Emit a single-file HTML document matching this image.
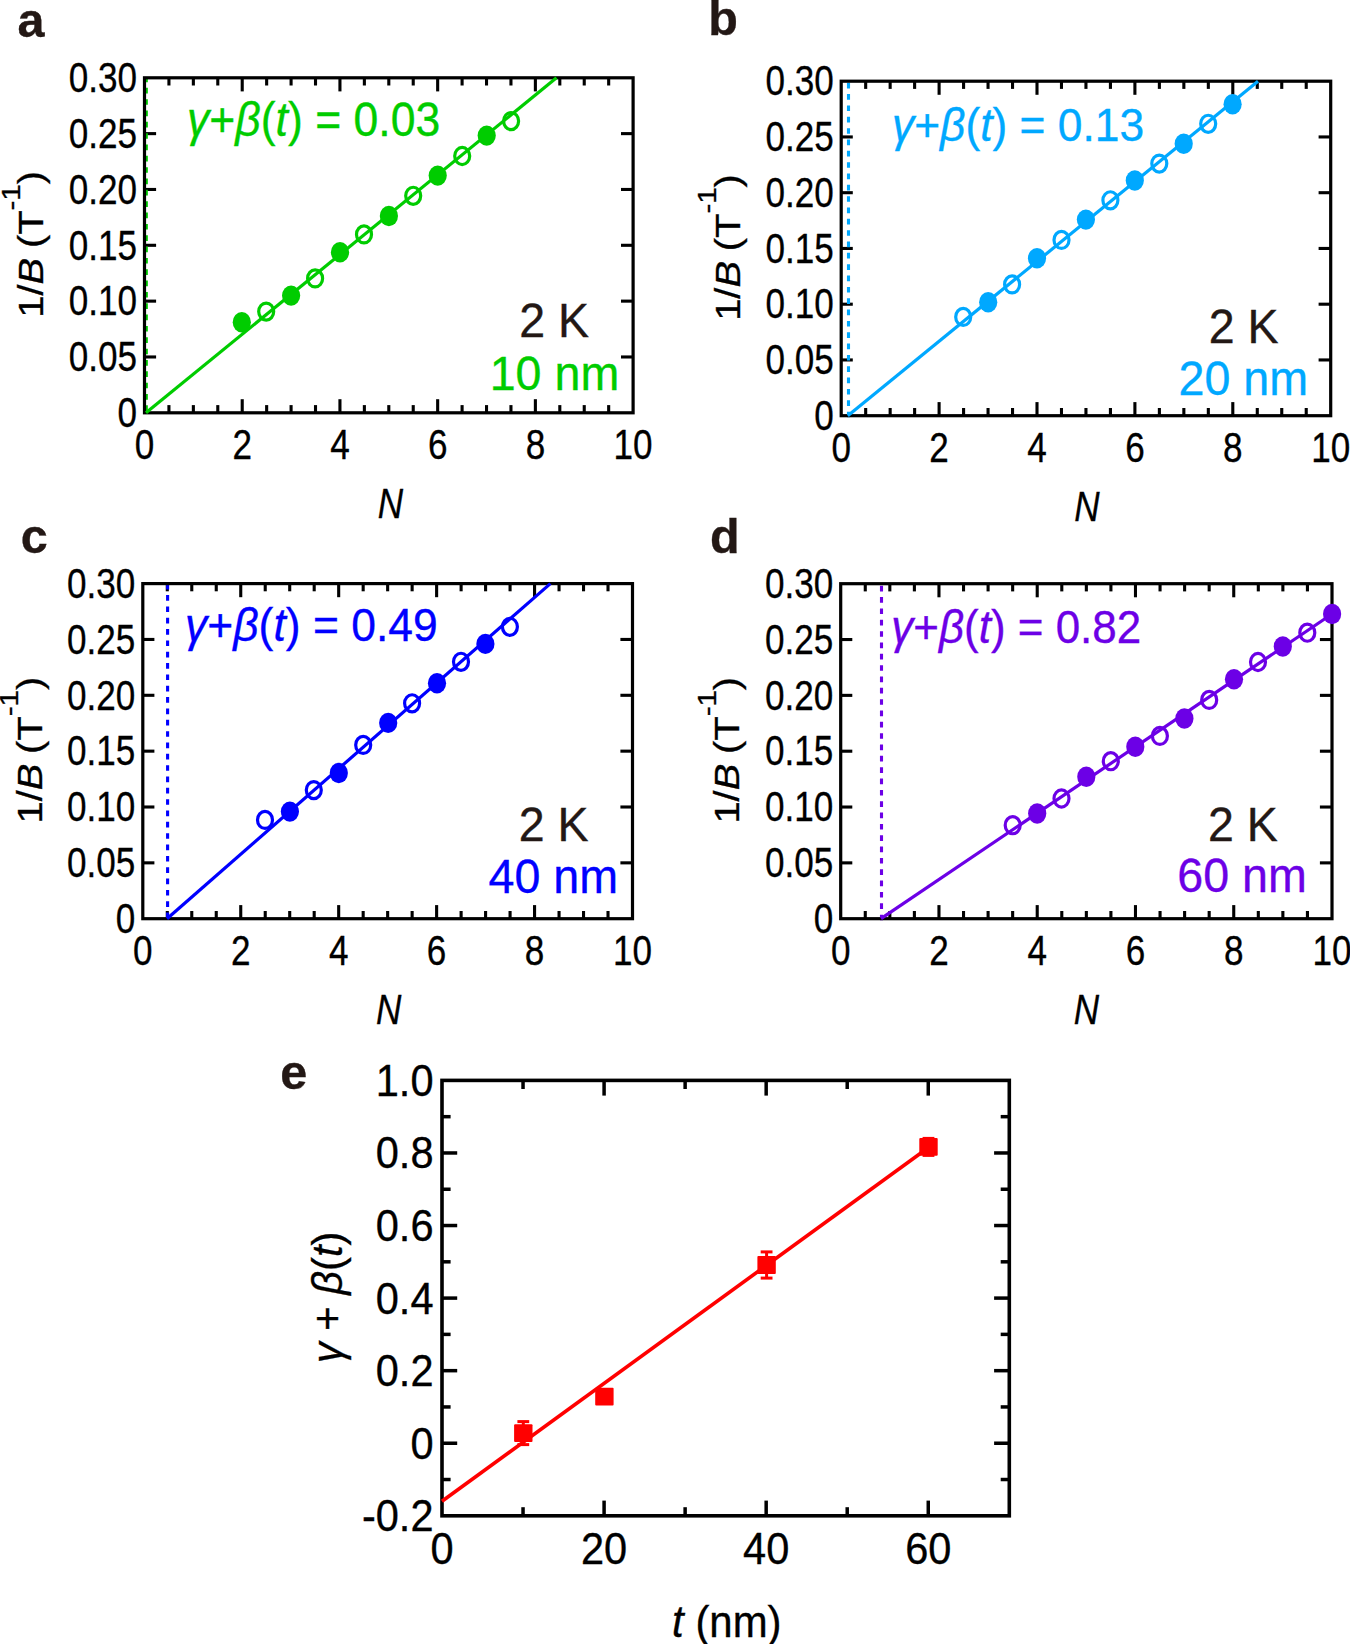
<!DOCTYPE html>
<html lang="en">
<head>
<meta charset="utf-8">
<title>Landau fan diagrams</title>
<style>
html,body{margin:0;padding:0;background:#fff;}
body{width:1350px;height:1644px;overflow:hidden;}
svg{display:block;font-family:"Liberation Sans",Arial,Helvetica,sans-serif;}
</style>
</head>
<body>
<svg width="1350" height="1644" viewBox="0 0 1350 1644">
<rect width="1350" height="1644" fill="#fff"/>
<g>
<text transform="translate(17.5,36.5)" font-size="48.5" fill="#231815" stroke="#231815" stroke-width="0.35" font-weight="bold">a</text>
<line x1="168.93" y1="412.8" x2="168.93" y2="405.1" stroke="#000" stroke-width="3.1"/>
<line x1="168.93" y1="77.8" x2="168.93" y2="85.5" stroke="#000" stroke-width="3.1"/>
<line x1="193.36" y1="412.8" x2="193.36" y2="405.1" stroke="#000" stroke-width="3.1"/>
<line x1="193.36" y1="77.8" x2="193.36" y2="85.5" stroke="#000" stroke-width="3.1"/>
<line x1="217.79" y1="412.8" x2="217.79" y2="405.1" stroke="#000" stroke-width="3.1"/>
<line x1="217.79" y1="77.8" x2="217.79" y2="85.5" stroke="#000" stroke-width="3.1"/>
<line x1="242.22" y1="412.8" x2="242.22" y2="399.2" stroke="#000" stroke-width="3.1"/>
<line x1="242.22" y1="77.8" x2="242.22" y2="91.4" stroke="#000" stroke-width="3.1"/>
<line x1="266.65" y1="412.8" x2="266.65" y2="405.1" stroke="#000" stroke-width="3.1"/>
<line x1="266.65" y1="77.8" x2="266.65" y2="85.5" stroke="#000" stroke-width="3.1"/>
<line x1="291.08" y1="412.8" x2="291.08" y2="405.1" stroke="#000" stroke-width="3.1"/>
<line x1="291.08" y1="77.8" x2="291.08" y2="85.5" stroke="#000" stroke-width="3.1"/>
<line x1="315.51" y1="412.8" x2="315.51" y2="405.1" stroke="#000" stroke-width="3.1"/>
<line x1="315.51" y1="77.8" x2="315.51" y2="85.5" stroke="#000" stroke-width="3.1"/>
<line x1="339.94" y1="412.8" x2="339.94" y2="399.2" stroke="#000" stroke-width="3.1"/>
<line x1="339.94" y1="77.8" x2="339.94" y2="91.4" stroke="#000" stroke-width="3.1"/>
<line x1="364.37" y1="412.8" x2="364.37" y2="405.1" stroke="#000" stroke-width="3.1"/>
<line x1="364.37" y1="77.8" x2="364.37" y2="85.5" stroke="#000" stroke-width="3.1"/>
<line x1="388.8" y1="412.8" x2="388.8" y2="405.1" stroke="#000" stroke-width="3.1"/>
<line x1="388.8" y1="77.8" x2="388.8" y2="85.5" stroke="#000" stroke-width="3.1"/>
<line x1="413.23" y1="412.8" x2="413.23" y2="405.1" stroke="#000" stroke-width="3.1"/>
<line x1="413.23" y1="77.8" x2="413.23" y2="85.5" stroke="#000" stroke-width="3.1"/>
<line x1="437.66" y1="412.8" x2="437.66" y2="399.2" stroke="#000" stroke-width="3.1"/>
<line x1="437.66" y1="77.8" x2="437.66" y2="91.4" stroke="#000" stroke-width="3.1"/>
<line x1="462.09" y1="412.8" x2="462.09" y2="405.1" stroke="#000" stroke-width="3.1"/>
<line x1="462.09" y1="77.8" x2="462.09" y2="85.5" stroke="#000" stroke-width="3.1"/>
<line x1="486.52" y1="412.8" x2="486.52" y2="405.1" stroke="#000" stroke-width="3.1"/>
<line x1="486.52" y1="77.8" x2="486.52" y2="85.5" stroke="#000" stroke-width="3.1"/>
<line x1="510.95" y1="412.8" x2="510.95" y2="405.1" stroke="#000" stroke-width="3.1"/>
<line x1="510.95" y1="77.8" x2="510.95" y2="85.5" stroke="#000" stroke-width="3.1"/>
<line x1="535.38" y1="412.8" x2="535.38" y2="399.2" stroke="#000" stroke-width="3.1"/>
<line x1="535.38" y1="77.8" x2="535.38" y2="91.4" stroke="#000" stroke-width="3.1"/>
<line x1="559.81" y1="412.8" x2="559.81" y2="405.1" stroke="#000" stroke-width="3.1"/>
<line x1="559.81" y1="77.8" x2="559.81" y2="85.5" stroke="#000" stroke-width="3.1"/>
<line x1="584.24" y1="412.8" x2="584.24" y2="405.1" stroke="#000" stroke-width="3.1"/>
<line x1="584.24" y1="77.8" x2="584.24" y2="85.5" stroke="#000" stroke-width="3.1"/>
<line x1="608.67" y1="412.8" x2="608.67" y2="405.1" stroke="#000" stroke-width="3.1"/>
<line x1="608.67" y1="77.8" x2="608.67" y2="85.5" stroke="#000" stroke-width="3.1"/>
<line x1="144.5" y1="356.97" x2="156.1" y2="356.97" stroke="#000" stroke-width="3.1"/>
<line x1="633.1" y1="356.97" x2="621" y2="356.97" stroke="#000" stroke-width="3.1"/>
<line x1="144.5" y1="301.13" x2="156.1" y2="301.13" stroke="#000" stroke-width="3.1"/>
<line x1="633.1" y1="301.13" x2="621" y2="301.13" stroke="#000" stroke-width="3.1"/>
<line x1="144.5" y1="245.3" x2="156.1" y2="245.3" stroke="#000" stroke-width="3.1"/>
<line x1="633.1" y1="245.3" x2="621" y2="245.3" stroke="#000" stroke-width="3.1"/>
<line x1="144.5" y1="189.47" x2="156.1" y2="189.47" stroke="#000" stroke-width="3.1"/>
<line x1="633.1" y1="189.47" x2="621" y2="189.47" stroke="#000" stroke-width="3.1"/>
<line x1="144.5" y1="133.63" x2="156.1" y2="133.63" stroke="#000" stroke-width="3.1"/>
<line x1="633.1" y1="133.63" x2="621" y2="133.63" stroke="#000" stroke-width="3.1"/>
<line x1="146.3" y1="411" x2="146.3" y2="77.8" stroke="#00cc00" stroke-width="3.1" stroke-dasharray="5.67 5.67"/>
<rect x="144.5" y="77.8" width="488.6" height="335" fill="none" stroke="#000" stroke-width="3.2"/>
<text transform="translate(137,427.05) scale(0.81,1)" font-size="43.3" fill="#000" stroke="#000" stroke-width="0.35" text-anchor="end">0</text>
<text transform="translate(137,371.22) scale(0.81,1)" font-size="43.3" fill="#000" stroke="#000" stroke-width="0.35" text-anchor="end">0.05</text>
<text transform="translate(137,315.38) scale(0.81,1)" font-size="43.3" fill="#000" stroke="#000" stroke-width="0.35" text-anchor="end">0.10</text>
<text transform="translate(137,259.55) scale(0.81,1)" font-size="43.3" fill="#000" stroke="#000" stroke-width="0.35" text-anchor="end">0.15</text>
<text transform="translate(137,203.72) scale(0.81,1)" font-size="43.3" fill="#000" stroke="#000" stroke-width="0.35" text-anchor="end">0.20</text>
<text transform="translate(137,147.88) scale(0.81,1)" font-size="43.3" fill="#000" stroke="#000" stroke-width="0.35" text-anchor="end">0.25</text>
<text transform="translate(137,92.05) scale(0.81,1)" font-size="43.3" fill="#000" stroke="#000" stroke-width="0.35" text-anchor="end">0.30</text>
<text transform="translate(144.5,458.6) scale(0.81,1)" font-size="43.3" fill="#000" stroke="#000" stroke-width="0.35" text-anchor="middle">0</text>
<text transform="translate(242.22,458.6) scale(0.81,1)" font-size="43.3" fill="#000" stroke="#000" stroke-width="0.35" text-anchor="middle">2</text>
<text transform="translate(339.94,458.6) scale(0.81,1)" font-size="43.3" fill="#000" stroke="#000" stroke-width="0.35" text-anchor="middle">4</text>
<text transform="translate(437.66,458.6) scale(0.81,1)" font-size="43.3" fill="#000" stroke="#000" stroke-width="0.35" text-anchor="middle">6</text>
<text transform="translate(535.38,458.6) scale(0.81,1)" font-size="43.3" fill="#000" stroke="#000" stroke-width="0.35" text-anchor="middle">8</text>
<text transform="translate(633.1,458.6) scale(0.81,1)" font-size="43.3" fill="#000" stroke="#000" stroke-width="0.35" text-anchor="middle">10</text>
<text transform="translate(390.3,518) scale(0.81,1)" font-size="43.3" fill="#000" stroke="#000" stroke-width="0.35" text-anchor="middle" font-style="italic">N</text>
<text transform="translate(43.2,244.3) scale(0.89,1) rotate(-90)" font-size="39.9" fill="#000" stroke="#000" stroke-width="0.35" text-anchor="middle">1/<tspan font-style="italic">B</tspan><tspan dx="-1.4"> </tspan>(T<tspan font-size="29.5" dy="-26.5">-1</tspan><tspan dy="26.5">)</tspan></text>
<line x1="146" y1="412.8" x2="556.5" y2="77.8" stroke="#00cc00" stroke-width="3.2"/>
<ellipse cx="241.8" cy="322.2" rx="9.1" ry="10.2" fill="#00cc00"/>
<ellipse cx="266.2" cy="311.6" rx="7.5" ry="8.55" fill="none" stroke="#00cc00" stroke-width="3.2"/>
<ellipse cx="291.1" cy="295.6" rx="9.1" ry="10.2" fill="#00cc00"/>
<ellipse cx="315.1" cy="278.4" rx="7.5" ry="8.55" fill="none" stroke="#00cc00" stroke-width="3.2"/>
<ellipse cx="340" cy="252.2" rx="9.1" ry="10.2" fill="#00cc00"/>
<ellipse cx="364" cy="234.4" rx="7.5" ry="8.55" fill="none" stroke="#00cc00" stroke-width="3.2"/>
<ellipse cx="388.9" cy="216" rx="9.1" ry="10.2" fill="#00cc00"/>
<ellipse cx="413.2" cy="195.8" rx="7.5" ry="8.55" fill="none" stroke="#00cc00" stroke-width="3.2"/>
<ellipse cx="437.7" cy="175.6" rx="9.1" ry="10.2" fill="#00cc00"/>
<ellipse cx="462.2" cy="156" rx="7.5" ry="8.55" fill="none" stroke="#00cc00" stroke-width="3.2"/>
<ellipse cx="486.7" cy="135.6" rx="9.1" ry="10.2" fill="#00cc00"/>
<ellipse cx="511.1" cy="121.1" rx="7.5" ry="8.55" fill="none" stroke="#00cc00" stroke-width="3.2"/>
<text transform="translate(187,135.5) scale(0.94,1)" font-size="47.4" fill="#00cc00" stroke="#00cc00" stroke-width="0.35"><tspan font-style="italic">γ</tspan>+<tspan font-style="italic">β</tspan>(<tspan font-style="italic">t</tspan>) = 0.03</text>
<text transform="translate(554.2,336.7) scale(0.96,1)" font-size="48.5" fill="#231815" stroke="#231815" stroke-width="0.35" text-anchor="middle">2 K</text>
<text transform="translate(554.5,390) scale(0.96,1)" font-size="48.6" fill="#00cc00" stroke="#00cc00" stroke-width="0.35" text-anchor="middle">10 nm</text>
</g>
<g>
<text transform="translate(708.3,34.8)" font-size="48.5" fill="#231815" stroke="#231815" stroke-width="0.35" font-weight="bold">b</text>
<line x1="865.68" y1="415.7" x2="865.68" y2="408" stroke="#000" stroke-width="3.1"/>
<line x1="865.68" y1="81.2" x2="865.68" y2="88.9" stroke="#000" stroke-width="3.1"/>
<line x1="890.15" y1="415.7" x2="890.15" y2="408" stroke="#000" stroke-width="3.1"/>
<line x1="890.15" y1="81.2" x2="890.15" y2="88.9" stroke="#000" stroke-width="3.1"/>
<line x1="914.62" y1="415.7" x2="914.62" y2="408" stroke="#000" stroke-width="3.1"/>
<line x1="914.62" y1="81.2" x2="914.62" y2="88.9" stroke="#000" stroke-width="3.1"/>
<line x1="939.1" y1="415.7" x2="939.1" y2="402.1" stroke="#000" stroke-width="3.1"/>
<line x1="939.1" y1="81.2" x2="939.1" y2="94.8" stroke="#000" stroke-width="3.1"/>
<line x1="963.58" y1="415.7" x2="963.58" y2="408" stroke="#000" stroke-width="3.1"/>
<line x1="963.58" y1="81.2" x2="963.58" y2="88.9" stroke="#000" stroke-width="3.1"/>
<line x1="988.05" y1="415.7" x2="988.05" y2="408" stroke="#000" stroke-width="3.1"/>
<line x1="988.05" y1="81.2" x2="988.05" y2="88.9" stroke="#000" stroke-width="3.1"/>
<line x1="1012.53" y1="415.7" x2="1012.53" y2="408" stroke="#000" stroke-width="3.1"/>
<line x1="1012.53" y1="81.2" x2="1012.53" y2="88.9" stroke="#000" stroke-width="3.1"/>
<line x1="1037" y1="415.7" x2="1037" y2="402.1" stroke="#000" stroke-width="3.1"/>
<line x1="1037" y1="81.2" x2="1037" y2="94.8" stroke="#000" stroke-width="3.1"/>
<line x1="1061.48" y1="415.7" x2="1061.48" y2="408" stroke="#000" stroke-width="3.1"/>
<line x1="1061.48" y1="81.2" x2="1061.48" y2="88.9" stroke="#000" stroke-width="3.1"/>
<line x1="1085.95" y1="415.7" x2="1085.95" y2="408" stroke="#000" stroke-width="3.1"/>
<line x1="1085.95" y1="81.2" x2="1085.95" y2="88.9" stroke="#000" stroke-width="3.1"/>
<line x1="1110.43" y1="415.7" x2="1110.43" y2="408" stroke="#000" stroke-width="3.1"/>
<line x1="1110.43" y1="81.2" x2="1110.43" y2="88.9" stroke="#000" stroke-width="3.1"/>
<line x1="1134.9" y1="415.7" x2="1134.9" y2="402.1" stroke="#000" stroke-width="3.1"/>
<line x1="1134.9" y1="81.2" x2="1134.9" y2="94.8" stroke="#000" stroke-width="3.1"/>
<line x1="1159.38" y1="415.7" x2="1159.38" y2="408" stroke="#000" stroke-width="3.1"/>
<line x1="1159.38" y1="81.2" x2="1159.38" y2="88.9" stroke="#000" stroke-width="3.1"/>
<line x1="1183.85" y1="415.7" x2="1183.85" y2="408" stroke="#000" stroke-width="3.1"/>
<line x1="1183.85" y1="81.2" x2="1183.85" y2="88.9" stroke="#000" stroke-width="3.1"/>
<line x1="1208.33" y1="415.7" x2="1208.33" y2="408" stroke="#000" stroke-width="3.1"/>
<line x1="1208.33" y1="81.2" x2="1208.33" y2="88.9" stroke="#000" stroke-width="3.1"/>
<line x1="1232.8" y1="415.7" x2="1232.8" y2="402.1" stroke="#000" stroke-width="3.1"/>
<line x1="1232.8" y1="81.2" x2="1232.8" y2="94.8" stroke="#000" stroke-width="3.1"/>
<line x1="1257.28" y1="415.7" x2="1257.28" y2="408" stroke="#000" stroke-width="3.1"/>
<line x1="1257.28" y1="81.2" x2="1257.28" y2="88.9" stroke="#000" stroke-width="3.1"/>
<line x1="1281.75" y1="415.7" x2="1281.75" y2="408" stroke="#000" stroke-width="3.1"/>
<line x1="1281.75" y1="81.2" x2="1281.75" y2="88.9" stroke="#000" stroke-width="3.1"/>
<line x1="1306.23" y1="415.7" x2="1306.23" y2="408" stroke="#000" stroke-width="3.1"/>
<line x1="1306.23" y1="81.2" x2="1306.23" y2="88.9" stroke="#000" stroke-width="3.1"/>
<line x1="841.2" y1="359.95" x2="852.8" y2="359.95" stroke="#000" stroke-width="3.1"/>
<line x1="1330.7" y1="359.95" x2="1318.6" y2="359.95" stroke="#000" stroke-width="3.1"/>
<line x1="841.2" y1="304.2" x2="852.8" y2="304.2" stroke="#000" stroke-width="3.1"/>
<line x1="1330.7" y1="304.2" x2="1318.6" y2="304.2" stroke="#000" stroke-width="3.1"/>
<line x1="841.2" y1="248.45" x2="852.8" y2="248.45" stroke="#000" stroke-width="3.1"/>
<line x1="1330.7" y1="248.45" x2="1318.6" y2="248.45" stroke="#000" stroke-width="3.1"/>
<line x1="841.2" y1="192.7" x2="852.8" y2="192.7" stroke="#000" stroke-width="3.1"/>
<line x1="1330.7" y1="192.7" x2="1318.6" y2="192.7" stroke="#000" stroke-width="3.1"/>
<line x1="841.2" y1="136.95" x2="852.8" y2="136.95" stroke="#000" stroke-width="3.1"/>
<line x1="1330.7" y1="136.95" x2="1318.6" y2="136.95" stroke="#000" stroke-width="3.1"/>
<line x1="848.5" y1="417.3" x2="848.5" y2="81.2" stroke="#00a8ff" stroke-width="3.1" stroke-dasharray="5.67 5.67"/>
<rect x="841.2" y="81.2" width="489.5" height="334.5" fill="none" stroke="#000" stroke-width="3.2"/>
<text transform="translate(833.7,429.95) scale(0.81,1)" font-size="43.3" fill="#000" stroke="#000" stroke-width="0.35" text-anchor="end">0</text>
<text transform="translate(833.7,374.2) scale(0.81,1)" font-size="43.3" fill="#000" stroke="#000" stroke-width="0.35" text-anchor="end">0.05</text>
<text transform="translate(833.7,318.45) scale(0.81,1)" font-size="43.3" fill="#000" stroke="#000" stroke-width="0.35" text-anchor="end">0.10</text>
<text transform="translate(833.7,262.7) scale(0.81,1)" font-size="43.3" fill="#000" stroke="#000" stroke-width="0.35" text-anchor="end">0.15</text>
<text transform="translate(833.7,206.95) scale(0.81,1)" font-size="43.3" fill="#000" stroke="#000" stroke-width="0.35" text-anchor="end">0.20</text>
<text transform="translate(833.7,151.2) scale(0.81,1)" font-size="43.3" fill="#000" stroke="#000" stroke-width="0.35" text-anchor="end">0.25</text>
<text transform="translate(833.7,95.45) scale(0.81,1)" font-size="43.3" fill="#000" stroke="#000" stroke-width="0.35" text-anchor="end">0.30</text>
<text transform="translate(841.2,461.5) scale(0.81,1)" font-size="43.3" fill="#000" stroke="#000" stroke-width="0.35" text-anchor="middle">0</text>
<text transform="translate(939.1,461.5) scale(0.81,1)" font-size="43.3" fill="#000" stroke="#000" stroke-width="0.35" text-anchor="middle">2</text>
<text transform="translate(1037,461.5) scale(0.81,1)" font-size="43.3" fill="#000" stroke="#000" stroke-width="0.35" text-anchor="middle">4</text>
<text transform="translate(1134.9,461.5) scale(0.81,1)" font-size="43.3" fill="#000" stroke="#000" stroke-width="0.35" text-anchor="middle">6</text>
<text transform="translate(1232.8,461.5) scale(0.81,1)" font-size="43.3" fill="#000" stroke="#000" stroke-width="0.35" text-anchor="middle">8</text>
<text transform="translate(1330.7,461.5) scale(0.81,1)" font-size="43.3" fill="#000" stroke="#000" stroke-width="0.35" text-anchor="middle">10</text>
<text transform="translate(1087,520.9) scale(0.81,1)" font-size="43.3" fill="#000" stroke="#000" stroke-width="0.35" text-anchor="middle" font-style="italic">N</text>
<text transform="translate(739.9,247.45) scale(0.89,1) rotate(-90)" font-size="39.9" fill="#000" stroke="#000" stroke-width="0.35" text-anchor="middle">1/<tspan font-style="italic">B</tspan><tspan dx="-1.4"> </tspan>(T<tspan font-size="29.5" dy="-26.5">-1</tspan><tspan dy="26.5">)</tspan></text>
<line x1="847.8" y1="415.7" x2="1258" y2="81.2" stroke="#00a8ff" stroke-width="3.2"/>
<ellipse cx="963.2" cy="316.9" rx="7.5" ry="8.55" fill="none" stroke="#00a8ff" stroke-width="3.2"/>
<ellipse cx="988.2" cy="302.2" rx="9.1" ry="10.2" fill="#00a8ff"/>
<ellipse cx="1012.1" cy="284.4" rx="7.5" ry="8.55" fill="none" stroke="#00a8ff" stroke-width="3.2"/>
<ellipse cx="1037" cy="258.2" rx="9.1" ry="10.2" fill="#00a8ff"/>
<ellipse cx="1061.5" cy="239.9" rx="7.5" ry="8.55" fill="none" stroke="#00a8ff" stroke-width="3.2"/>
<ellipse cx="1085.9" cy="219.6" rx="9.1" ry="10.2" fill="#00a8ff"/>
<ellipse cx="1110.4" cy="200.3" rx="7.5" ry="8.55" fill="none" stroke="#00a8ff" stroke-width="3.2"/>
<ellipse cx="1134.8" cy="180.5" rx="9.1" ry="10.2" fill="#00a8ff"/>
<ellipse cx="1159.3" cy="163.6" rx="7.5" ry="8.55" fill="none" stroke="#00a8ff" stroke-width="3.2"/>
<ellipse cx="1183.7" cy="143.8" rx="9.1" ry="10.2" fill="#00a8ff"/>
<ellipse cx="1208.2" cy="123.8" rx="7.5" ry="8.55" fill="none" stroke="#00a8ff" stroke-width="3.2"/>
<ellipse cx="1232.6" cy="104.2" rx="9.1" ry="10.2" fill="#00a8ff"/>
<text transform="translate(892,141.4) scale(0.96,1)" font-size="46.2" fill="#00a8ff" stroke="#00a8ff" stroke-width="0.35"><tspan font-style="italic">γ</tspan>+<tspan font-style="italic">β</tspan>(<tspan font-style="italic">t</tspan>) = 0.13</text>
<text transform="translate(1243.7,343.4) scale(0.96,1)" font-size="48.5" fill="#231815" stroke="#231815" stroke-width="0.35" text-anchor="middle">2 K</text>
<text transform="translate(1243.3,395) scale(0.96,1)" font-size="48.6" fill="#00a8ff" stroke="#00a8ff" stroke-width="0.35" text-anchor="middle">20 nm</text>
</g>
<g>
<text transform="translate(20.8,553)" font-size="48.5" fill="#231815" stroke="#231815" stroke-width="0.35" font-weight="bold">c</text>
<line x1="167.29" y1="918.7" x2="167.29" y2="911" stroke="#000" stroke-width="3.1"/>
<line x1="167.29" y1="583.6" x2="167.29" y2="591.3" stroke="#000" stroke-width="3.1"/>
<line x1="191.77" y1="918.7" x2="191.77" y2="911" stroke="#000" stroke-width="3.1"/>
<line x1="191.77" y1="583.6" x2="191.77" y2="591.3" stroke="#000" stroke-width="3.1"/>
<line x1="216.25" y1="918.7" x2="216.25" y2="911" stroke="#000" stroke-width="3.1"/>
<line x1="216.25" y1="583.6" x2="216.25" y2="591.3" stroke="#000" stroke-width="3.1"/>
<line x1="240.74" y1="918.7" x2="240.74" y2="905.1" stroke="#000" stroke-width="3.1"/>
<line x1="240.74" y1="583.6" x2="240.74" y2="597.2" stroke="#000" stroke-width="3.1"/>
<line x1="265.23" y1="918.7" x2="265.23" y2="911" stroke="#000" stroke-width="3.1"/>
<line x1="265.23" y1="583.6" x2="265.23" y2="591.3" stroke="#000" stroke-width="3.1"/>
<line x1="289.71" y1="918.7" x2="289.71" y2="911" stroke="#000" stroke-width="3.1"/>
<line x1="289.71" y1="583.6" x2="289.71" y2="591.3" stroke="#000" stroke-width="3.1"/>
<line x1="314.19" y1="918.7" x2="314.19" y2="911" stroke="#000" stroke-width="3.1"/>
<line x1="314.19" y1="583.6" x2="314.19" y2="591.3" stroke="#000" stroke-width="3.1"/>
<line x1="338.68" y1="918.7" x2="338.68" y2="905.1" stroke="#000" stroke-width="3.1"/>
<line x1="338.68" y1="583.6" x2="338.68" y2="597.2" stroke="#000" stroke-width="3.1"/>
<line x1="363.17" y1="918.7" x2="363.17" y2="911" stroke="#000" stroke-width="3.1"/>
<line x1="363.17" y1="583.6" x2="363.17" y2="591.3" stroke="#000" stroke-width="3.1"/>
<line x1="387.65" y1="918.7" x2="387.65" y2="911" stroke="#000" stroke-width="3.1"/>
<line x1="387.65" y1="583.6" x2="387.65" y2="591.3" stroke="#000" stroke-width="3.1"/>
<line x1="412.13" y1="918.7" x2="412.13" y2="911" stroke="#000" stroke-width="3.1"/>
<line x1="412.13" y1="583.6" x2="412.13" y2="591.3" stroke="#000" stroke-width="3.1"/>
<line x1="436.62" y1="918.7" x2="436.62" y2="905.1" stroke="#000" stroke-width="3.1"/>
<line x1="436.62" y1="583.6" x2="436.62" y2="597.2" stroke="#000" stroke-width="3.1"/>
<line x1="461.11" y1="918.7" x2="461.11" y2="911" stroke="#000" stroke-width="3.1"/>
<line x1="461.11" y1="583.6" x2="461.11" y2="591.3" stroke="#000" stroke-width="3.1"/>
<line x1="485.59" y1="918.7" x2="485.59" y2="911" stroke="#000" stroke-width="3.1"/>
<line x1="485.59" y1="583.6" x2="485.59" y2="591.3" stroke="#000" stroke-width="3.1"/>
<line x1="510.07" y1="918.7" x2="510.07" y2="911" stroke="#000" stroke-width="3.1"/>
<line x1="510.07" y1="583.6" x2="510.07" y2="591.3" stroke="#000" stroke-width="3.1"/>
<line x1="534.56" y1="918.7" x2="534.56" y2="905.1" stroke="#000" stroke-width="3.1"/>
<line x1="534.56" y1="583.6" x2="534.56" y2="597.2" stroke="#000" stroke-width="3.1"/>
<line x1="559.05" y1="918.7" x2="559.05" y2="911" stroke="#000" stroke-width="3.1"/>
<line x1="559.05" y1="583.6" x2="559.05" y2="591.3" stroke="#000" stroke-width="3.1"/>
<line x1="583.53" y1="918.7" x2="583.53" y2="911" stroke="#000" stroke-width="3.1"/>
<line x1="583.53" y1="583.6" x2="583.53" y2="591.3" stroke="#000" stroke-width="3.1"/>
<line x1="608.01" y1="918.7" x2="608.01" y2="911" stroke="#000" stroke-width="3.1"/>
<line x1="608.01" y1="583.6" x2="608.01" y2="591.3" stroke="#000" stroke-width="3.1"/>
<line x1="142.8" y1="862.85" x2="154.4" y2="862.85" stroke="#000" stroke-width="3.1"/>
<line x1="632.5" y1="862.85" x2="620.4" y2="862.85" stroke="#000" stroke-width="3.1"/>
<line x1="142.8" y1="807" x2="154.4" y2="807" stroke="#000" stroke-width="3.1"/>
<line x1="632.5" y1="807" x2="620.4" y2="807" stroke="#000" stroke-width="3.1"/>
<line x1="142.8" y1="751.15" x2="154.4" y2="751.15" stroke="#000" stroke-width="3.1"/>
<line x1="632.5" y1="751.15" x2="620.4" y2="751.15" stroke="#000" stroke-width="3.1"/>
<line x1="142.8" y1="695.3" x2="154.4" y2="695.3" stroke="#000" stroke-width="3.1"/>
<line x1="632.5" y1="695.3" x2="620.4" y2="695.3" stroke="#000" stroke-width="3.1"/>
<line x1="142.8" y1="639.45" x2="154.4" y2="639.45" stroke="#000" stroke-width="3.1"/>
<line x1="632.5" y1="639.45" x2="620.4" y2="639.45" stroke="#000" stroke-width="3.1"/>
<line x1="167.6" y1="918.25" x2="167.6" y2="583.6" stroke="#0000ff" stroke-width="3.1" stroke-dasharray="5.67 5.67"/>
<rect x="142.8" y="583.6" width="489.7" height="335.1" fill="none" stroke="#000" stroke-width="3.2"/>
<text transform="translate(135.3,932.95) scale(0.81,1)" font-size="43.3" fill="#000" stroke="#000" stroke-width="0.35" text-anchor="end">0</text>
<text transform="translate(135.3,877.1) scale(0.81,1)" font-size="43.3" fill="#000" stroke="#000" stroke-width="0.35" text-anchor="end">0.05</text>
<text transform="translate(135.3,821.25) scale(0.81,1)" font-size="43.3" fill="#000" stroke="#000" stroke-width="0.35" text-anchor="end">0.10</text>
<text transform="translate(135.3,765.4) scale(0.81,1)" font-size="43.3" fill="#000" stroke="#000" stroke-width="0.35" text-anchor="end">0.15</text>
<text transform="translate(135.3,709.55) scale(0.81,1)" font-size="43.3" fill="#000" stroke="#000" stroke-width="0.35" text-anchor="end">0.20</text>
<text transform="translate(135.3,653.7) scale(0.81,1)" font-size="43.3" fill="#000" stroke="#000" stroke-width="0.35" text-anchor="end">0.25</text>
<text transform="translate(135.3,597.85) scale(0.81,1)" font-size="43.3" fill="#000" stroke="#000" stroke-width="0.35" text-anchor="end">0.30</text>
<text transform="translate(142.8,964.5) scale(0.81,1)" font-size="43.3" fill="#000" stroke="#000" stroke-width="0.35" text-anchor="middle">0</text>
<text transform="translate(240.74,964.5) scale(0.81,1)" font-size="43.3" fill="#000" stroke="#000" stroke-width="0.35" text-anchor="middle">2</text>
<text transform="translate(338.68,964.5) scale(0.81,1)" font-size="43.3" fill="#000" stroke="#000" stroke-width="0.35" text-anchor="middle">4</text>
<text transform="translate(436.62,964.5) scale(0.81,1)" font-size="43.3" fill="#000" stroke="#000" stroke-width="0.35" text-anchor="middle">6</text>
<text transform="translate(534.56,964.5) scale(0.81,1)" font-size="43.3" fill="#000" stroke="#000" stroke-width="0.35" text-anchor="middle">8</text>
<text transform="translate(632.5,964.5) scale(0.81,1)" font-size="43.3" fill="#000" stroke="#000" stroke-width="0.35" text-anchor="middle">10</text>
<text transform="translate(388.6,1023.9) scale(0.81,1)" font-size="43.3" fill="#000" stroke="#000" stroke-width="0.35" text-anchor="middle" font-style="italic">N</text>
<text transform="translate(41.5,750.15) scale(0.89,1) rotate(-90)" font-size="39.9" fill="#000" stroke="#000" stroke-width="0.35" text-anchor="middle">1/<tspan font-style="italic">B</tspan><tspan dx="-1.4"> </tspan>(T<tspan font-size="29.5" dy="-26.5">-1</tspan><tspan dy="26.5">)</tspan></text>
<line x1="167" y1="918.7" x2="550.4" y2="583.6" stroke="#0000ff" stroke-width="3.2"/>
<ellipse cx="265" cy="819.9" rx="7.5" ry="8.55" fill="none" stroke="#0000ff" stroke-width="3.2"/>
<ellipse cx="289.9" cy="811.6" rx="9.1" ry="10.2" fill="#0000ff"/>
<ellipse cx="313.8" cy="790.1" rx="7.5" ry="8.55" fill="none" stroke="#0000ff" stroke-width="3.2"/>
<ellipse cx="338.8" cy="773" rx="9.1" ry="10.2" fill="#0000ff"/>
<ellipse cx="363.2" cy="744.9" rx="7.5" ry="8.55" fill="none" stroke="#0000ff" stroke-width="3.2"/>
<ellipse cx="388.2" cy="722.9" rx="9.1" ry="10.2" fill="#0000ff"/>
<ellipse cx="412.1" cy="703.3" rx="7.5" ry="8.55" fill="none" stroke="#0000ff" stroke-width="3.2"/>
<ellipse cx="437" cy="683.3" rx="9.1" ry="10.2" fill="#0000ff"/>
<ellipse cx="461" cy="661.8" rx="7.5" ry="8.55" fill="none" stroke="#0000ff" stroke-width="3.2"/>
<ellipse cx="485.4" cy="643.9" rx="9.1" ry="10.2" fill="#0000ff"/>
<ellipse cx="509.9" cy="626.8" rx="7.5" ry="8.55" fill="none" stroke="#0000ff" stroke-width="3.2"/>
<text transform="translate(185,641.2) scale(0.95,1)" font-size="46.8" fill="#0000ff" stroke="#0000ff" stroke-width="0.35"><tspan font-style="italic">γ</tspan>+<tspan font-style="italic">β</tspan>(<tspan font-style="italic">t</tspan>) = 0.49</text>
<text transform="translate(553.7,841.2) scale(0.96,1)" font-size="48.5" fill="#231815" stroke="#231815" stroke-width="0.35" text-anchor="middle">2 K</text>
<text transform="translate(553.3,892.8) scale(0.96,1)" font-size="48.6" fill="#0000ff" stroke="#0000ff" stroke-width="0.35" text-anchor="middle">40 nm</text>
</g>
<g>
<text transform="translate(710,553)" font-size="48.5" fill="#231815" stroke="#231815" stroke-width="0.35" font-weight="bold">d</text>
<line x1="865.27" y1="918.7" x2="865.27" y2="911" stroke="#000" stroke-width="3.1"/>
<line x1="865.27" y1="583.7" x2="865.27" y2="591.4" stroke="#000" stroke-width="3.1"/>
<line x1="889.83" y1="918.7" x2="889.83" y2="911" stroke="#000" stroke-width="3.1"/>
<line x1="889.83" y1="583.7" x2="889.83" y2="591.4" stroke="#000" stroke-width="3.1"/>
<line x1="914.39" y1="918.7" x2="914.39" y2="911" stroke="#000" stroke-width="3.1"/>
<line x1="914.39" y1="583.7" x2="914.39" y2="591.4" stroke="#000" stroke-width="3.1"/>
<line x1="938.96" y1="918.7" x2="938.96" y2="905.1" stroke="#000" stroke-width="3.1"/>
<line x1="938.96" y1="583.7" x2="938.96" y2="597.3" stroke="#000" stroke-width="3.1"/>
<line x1="963.53" y1="918.7" x2="963.53" y2="911" stroke="#000" stroke-width="3.1"/>
<line x1="963.53" y1="583.7" x2="963.53" y2="591.4" stroke="#000" stroke-width="3.1"/>
<line x1="988.09" y1="918.7" x2="988.09" y2="911" stroke="#000" stroke-width="3.1"/>
<line x1="988.09" y1="583.7" x2="988.09" y2="591.4" stroke="#000" stroke-width="3.1"/>
<line x1="1012.65" y1="918.7" x2="1012.65" y2="911" stroke="#000" stroke-width="3.1"/>
<line x1="1012.65" y1="583.7" x2="1012.65" y2="591.4" stroke="#000" stroke-width="3.1"/>
<line x1="1037.22" y1="918.7" x2="1037.22" y2="905.1" stroke="#000" stroke-width="3.1"/>
<line x1="1037.22" y1="583.7" x2="1037.22" y2="597.3" stroke="#000" stroke-width="3.1"/>
<line x1="1061.79" y1="918.7" x2="1061.79" y2="911" stroke="#000" stroke-width="3.1"/>
<line x1="1061.79" y1="583.7" x2="1061.79" y2="591.4" stroke="#000" stroke-width="3.1"/>
<line x1="1086.35" y1="918.7" x2="1086.35" y2="911" stroke="#000" stroke-width="3.1"/>
<line x1="1086.35" y1="583.7" x2="1086.35" y2="591.4" stroke="#000" stroke-width="3.1"/>
<line x1="1110.91" y1="918.7" x2="1110.91" y2="911" stroke="#000" stroke-width="3.1"/>
<line x1="1110.91" y1="583.7" x2="1110.91" y2="591.4" stroke="#000" stroke-width="3.1"/>
<line x1="1135.48" y1="918.7" x2="1135.48" y2="905.1" stroke="#000" stroke-width="3.1"/>
<line x1="1135.48" y1="583.7" x2="1135.48" y2="597.3" stroke="#000" stroke-width="3.1"/>
<line x1="1160.05" y1="918.7" x2="1160.05" y2="911" stroke="#000" stroke-width="3.1"/>
<line x1="1160.05" y1="583.7" x2="1160.05" y2="591.4" stroke="#000" stroke-width="3.1"/>
<line x1="1184.61" y1="918.7" x2="1184.61" y2="911" stroke="#000" stroke-width="3.1"/>
<line x1="1184.61" y1="583.7" x2="1184.61" y2="591.4" stroke="#000" stroke-width="3.1"/>
<line x1="1209.17" y1="918.7" x2="1209.17" y2="911" stroke="#000" stroke-width="3.1"/>
<line x1="1209.17" y1="583.7" x2="1209.17" y2="591.4" stroke="#000" stroke-width="3.1"/>
<line x1="1233.74" y1="918.7" x2="1233.74" y2="905.1" stroke="#000" stroke-width="3.1"/>
<line x1="1233.74" y1="583.7" x2="1233.74" y2="597.3" stroke="#000" stroke-width="3.1"/>
<line x1="1258.31" y1="918.7" x2="1258.31" y2="911" stroke="#000" stroke-width="3.1"/>
<line x1="1258.31" y1="583.7" x2="1258.31" y2="591.4" stroke="#000" stroke-width="3.1"/>
<line x1="1282.87" y1="918.7" x2="1282.87" y2="911" stroke="#000" stroke-width="3.1"/>
<line x1="1282.87" y1="583.7" x2="1282.87" y2="591.4" stroke="#000" stroke-width="3.1"/>
<line x1="1307.43" y1="918.7" x2="1307.43" y2="911" stroke="#000" stroke-width="3.1"/>
<line x1="1307.43" y1="583.7" x2="1307.43" y2="591.4" stroke="#000" stroke-width="3.1"/>
<line x1="840.7" y1="862.87" x2="852.3" y2="862.87" stroke="#000" stroke-width="3.1"/>
<line x1="1332" y1="862.87" x2="1319.9" y2="862.87" stroke="#000" stroke-width="3.1"/>
<line x1="840.7" y1="807.03" x2="852.3" y2="807.03" stroke="#000" stroke-width="3.1"/>
<line x1="1332" y1="807.03" x2="1319.9" y2="807.03" stroke="#000" stroke-width="3.1"/>
<line x1="840.7" y1="751.2" x2="852.3" y2="751.2" stroke="#000" stroke-width="3.1"/>
<line x1="1332" y1="751.2" x2="1319.9" y2="751.2" stroke="#000" stroke-width="3.1"/>
<line x1="840.7" y1="695.37" x2="852.3" y2="695.37" stroke="#000" stroke-width="3.1"/>
<line x1="1332" y1="695.37" x2="1319.9" y2="695.37" stroke="#000" stroke-width="3.1"/>
<line x1="840.7" y1="639.53" x2="852.3" y2="639.53" stroke="#000" stroke-width="3.1"/>
<line x1="1332" y1="639.53" x2="1319.9" y2="639.53" stroke="#000" stroke-width="3.1"/>
<line x1="881.5" y1="920.3" x2="881.5" y2="583.7" stroke="#6c00e6" stroke-width="3.1" stroke-dasharray="5.67 5.67"/>
<rect x="840.7" y="583.7" width="491.3" height="335" fill="none" stroke="#000" stroke-width="3.2"/>
<text transform="translate(833.2,932.95) scale(0.81,1)" font-size="43.3" fill="#000" stroke="#000" stroke-width="0.35" text-anchor="end">0</text>
<text transform="translate(833.2,877.12) scale(0.81,1)" font-size="43.3" fill="#000" stroke="#000" stroke-width="0.35" text-anchor="end">0.05</text>
<text transform="translate(833.2,821.28) scale(0.81,1)" font-size="43.3" fill="#000" stroke="#000" stroke-width="0.35" text-anchor="end">0.10</text>
<text transform="translate(833.2,765.45) scale(0.81,1)" font-size="43.3" fill="#000" stroke="#000" stroke-width="0.35" text-anchor="end">0.15</text>
<text transform="translate(833.2,709.62) scale(0.81,1)" font-size="43.3" fill="#000" stroke="#000" stroke-width="0.35" text-anchor="end">0.20</text>
<text transform="translate(833.2,653.78) scale(0.81,1)" font-size="43.3" fill="#000" stroke="#000" stroke-width="0.35" text-anchor="end">0.25</text>
<text transform="translate(833.2,597.95) scale(0.81,1)" font-size="43.3" fill="#000" stroke="#000" stroke-width="0.35" text-anchor="end">0.30</text>
<text transform="translate(840.7,964.5) scale(0.81,1)" font-size="43.3" fill="#000" stroke="#000" stroke-width="0.35" text-anchor="middle">0</text>
<text transform="translate(938.96,964.5) scale(0.81,1)" font-size="43.3" fill="#000" stroke="#000" stroke-width="0.35" text-anchor="middle">2</text>
<text transform="translate(1037.22,964.5) scale(0.81,1)" font-size="43.3" fill="#000" stroke="#000" stroke-width="0.35" text-anchor="middle">4</text>
<text transform="translate(1135.48,964.5) scale(0.81,1)" font-size="43.3" fill="#000" stroke="#000" stroke-width="0.35" text-anchor="middle">6</text>
<text transform="translate(1233.74,964.5) scale(0.81,1)" font-size="43.3" fill="#000" stroke="#000" stroke-width="0.35" text-anchor="middle">8</text>
<text transform="translate(1332,964.5) scale(0.81,1)" font-size="43.3" fill="#000" stroke="#000" stroke-width="0.35" text-anchor="middle">10</text>
<text transform="translate(1086.5,1023.9) scale(0.81,1)" font-size="43.3" fill="#000" stroke="#000" stroke-width="0.35" text-anchor="middle" font-style="italic">N</text>
<text transform="translate(739.4,750.2) scale(0.89,1) rotate(-90)" font-size="39.9" fill="#000" stroke="#000" stroke-width="0.35" text-anchor="middle">1/<tspan font-style="italic">B</tspan><tspan dx="-1.4"> </tspan>(T<tspan font-size="29.5" dy="-26.5">-1</tspan><tspan dy="26.5">)</tspan></text>
<line x1="881" y1="918.7" x2="1332" y2="614" stroke="#6c00e6" stroke-width="3.2"/>
<ellipse cx="1012.7" cy="825.2" rx="7.5" ry="8.55" fill="none" stroke="#6c00e6" stroke-width="3.2"/>
<ellipse cx="1037.2" cy="813.5" rx="9.1" ry="10.2" fill="#6c00e6"/>
<ellipse cx="1061.5" cy="798.5" rx="7.5" ry="8.55" fill="none" stroke="#6c00e6" stroke-width="3.2"/>
<ellipse cx="1086.3" cy="776.7" rx="9.1" ry="10.2" fill="#6c00e6"/>
<ellipse cx="1110.8" cy="761.2" rx="7.5" ry="8.55" fill="none" stroke="#6c00e6" stroke-width="3.2"/>
<ellipse cx="1135.3" cy="746.8" rx="9.1" ry="10.2" fill="#6c00e6"/>
<ellipse cx="1159.9" cy="735.9" rx="7.5" ry="8.55" fill="none" stroke="#6c00e6" stroke-width="3.2"/>
<ellipse cx="1184.4" cy="718.5" rx="9.1" ry="10.2" fill="#6c00e6"/>
<ellipse cx="1209.2" cy="699.9" rx="7.5" ry="8.55" fill="none" stroke="#6c00e6" stroke-width="3.2"/>
<ellipse cx="1234" cy="679.3" rx="9.1" ry="10.2" fill="#6c00e6"/>
<ellipse cx="1258" cy="662" rx="7.5" ry="8.55" fill="none" stroke="#6c00e6" stroke-width="3.2"/>
<ellipse cx="1282.8" cy="646.5" rx="9.1" ry="10.2" fill="#6c00e6"/>
<ellipse cx="1307.3" cy="632.7" rx="7.5" ry="8.55" fill="none" stroke="#6c00e6" stroke-width="3.2"/>
<ellipse cx="1332.1" cy="614" rx="9.1" ry="10.2" fill="#6c00e6"/>
<text transform="translate(891.3,643) scale(0.96,1)" font-size="45.8" fill="#6c00e6" stroke="#6c00e6" stroke-width="0.35"><tspan font-style="italic">γ</tspan>+<tspan font-style="italic">β</tspan>(<tspan font-style="italic">t</tspan>) = 0.82</text>
<text transform="translate(1242.8,840.5) scale(0.96,1)" font-size="48.5" fill="#231815" stroke="#231815" stroke-width="0.35" text-anchor="middle">2 K</text>
<text transform="translate(1242.1,892.4) scale(0.96,1)" font-size="48.6" fill="#6c00e6" stroke="#6c00e6" stroke-width="0.35" text-anchor="middle">60 nm</text>
</g>
<g>
<text transform="translate(280.2,1088.8)" font-size="48.5" fill="#231815" stroke="#231815" stroke-width="0.35" font-weight="bold">e</text>
<line x1="523.04" y1="1515.8" x2="523.04" y2="1507.2" stroke="#000" stroke-width="3.5"/>
<line x1="523.04" y1="1080.4" x2="523.04" y2="1089" stroke="#000" stroke-width="3.5"/>
<line x1="604.09" y1="1515.8" x2="604.09" y2="1500.6" stroke="#000" stroke-width="3.5"/>
<line x1="604.09" y1="1080.4" x2="604.09" y2="1095.6" stroke="#000" stroke-width="3.5"/>
<line x1="685.13" y1="1515.8" x2="685.13" y2="1507.2" stroke="#000" stroke-width="3.5"/>
<line x1="685.13" y1="1080.4" x2="685.13" y2="1089" stroke="#000" stroke-width="3.5"/>
<line x1="766.17" y1="1515.8" x2="766.17" y2="1500.6" stroke="#000" stroke-width="3.5"/>
<line x1="766.17" y1="1080.4" x2="766.17" y2="1095.6" stroke="#000" stroke-width="3.5"/>
<line x1="847.21" y1="1515.8" x2="847.21" y2="1507.2" stroke="#000" stroke-width="3.5"/>
<line x1="847.21" y1="1080.4" x2="847.21" y2="1089" stroke="#000" stroke-width="3.5"/>
<line x1="928.26" y1="1515.8" x2="928.26" y2="1500.6" stroke="#000" stroke-width="3.5"/>
<line x1="928.26" y1="1080.4" x2="928.26" y2="1095.6" stroke="#000" stroke-width="3.5"/>
<line x1="442" y1="1479.52" x2="450.6" y2="1479.52" stroke="#000" stroke-width="3.5"/>
<line x1="1009.3" y1="1479.52" x2="1000.7" y2="1479.52" stroke="#000" stroke-width="3.5"/>
<line x1="442" y1="1443.23" x2="457.2" y2="1443.23" stroke="#000" stroke-width="3.5"/>
<line x1="1009.3" y1="1443.23" x2="994.1" y2="1443.23" stroke="#000" stroke-width="3.5"/>
<line x1="442" y1="1406.95" x2="450.6" y2="1406.95" stroke="#000" stroke-width="3.5"/>
<line x1="1009.3" y1="1406.95" x2="1000.7" y2="1406.95" stroke="#000" stroke-width="3.5"/>
<line x1="442" y1="1370.67" x2="457.2" y2="1370.67" stroke="#000" stroke-width="3.5"/>
<line x1="1009.3" y1="1370.67" x2="994.1" y2="1370.67" stroke="#000" stroke-width="3.5"/>
<line x1="442" y1="1334.38" x2="450.6" y2="1334.38" stroke="#000" stroke-width="3.5"/>
<line x1="1009.3" y1="1334.38" x2="1000.7" y2="1334.38" stroke="#000" stroke-width="3.5"/>
<line x1="442" y1="1298.1" x2="457.2" y2="1298.1" stroke="#000" stroke-width="3.5"/>
<line x1="1009.3" y1="1298.1" x2="994.1" y2="1298.1" stroke="#000" stroke-width="3.5"/>
<line x1="442" y1="1261.82" x2="450.6" y2="1261.82" stroke="#000" stroke-width="3.5"/>
<line x1="1009.3" y1="1261.82" x2="1000.7" y2="1261.82" stroke="#000" stroke-width="3.5"/>
<line x1="442" y1="1225.53" x2="457.2" y2="1225.53" stroke="#000" stroke-width="3.5"/>
<line x1="1009.3" y1="1225.53" x2="994.1" y2="1225.53" stroke="#000" stroke-width="3.5"/>
<line x1="442" y1="1189.25" x2="450.6" y2="1189.25" stroke="#000" stroke-width="3.5"/>
<line x1="1009.3" y1="1189.25" x2="1000.7" y2="1189.25" stroke="#000" stroke-width="3.5"/>
<line x1="442" y1="1152.97" x2="457.2" y2="1152.97" stroke="#000" stroke-width="3.5"/>
<line x1="1009.3" y1="1152.97" x2="994.1" y2="1152.97" stroke="#000" stroke-width="3.5"/>
<line x1="442" y1="1116.68" x2="450.6" y2="1116.68" stroke="#000" stroke-width="3.5"/>
<line x1="1009.3" y1="1116.68" x2="1000.7" y2="1116.68" stroke="#000" stroke-width="3.5"/>
<rect x="442" y="1080.4" width="567.3" height="435.4" fill="none" stroke="#000" stroke-width="3.6"/>
<text transform="translate(433.5,1531.3) scale(0.94,1)" font-size="44.2" fill="#000" stroke="#000" stroke-width="0.35" text-anchor="end">-0.2</text>
<text transform="translate(433.5,1458.73) scale(0.94,1)" font-size="44.2" fill="#000" stroke="#000" stroke-width="0.35" text-anchor="end">0</text>
<text transform="translate(433.5,1386.17) scale(0.94,1)" font-size="44.2" fill="#000" stroke="#000" stroke-width="0.35" text-anchor="end">0.2</text>
<text transform="translate(433.5,1313.6) scale(0.94,1)" font-size="44.2" fill="#000" stroke="#000" stroke-width="0.35" text-anchor="end">0.4</text>
<text transform="translate(433.5,1241.03) scale(0.94,1)" font-size="44.2" fill="#000" stroke="#000" stroke-width="0.35" text-anchor="end">0.6</text>
<text transform="translate(433.5,1168.47) scale(0.94,1)" font-size="44.2" fill="#000" stroke="#000" stroke-width="0.35" text-anchor="end">0.8</text>
<text transform="translate(433.5,1095.9) scale(0.94,1)" font-size="44.2" fill="#000" stroke="#000" stroke-width="0.35" text-anchor="end">1.0</text>
<text transform="translate(442,1564) scale(0.94,1)" font-size="44.2" fill="#000" stroke="#000" stroke-width="0.35" text-anchor="middle">0</text>
<text transform="translate(604.09,1564) scale(0.94,1)" font-size="44.2" fill="#000" stroke="#000" stroke-width="0.35" text-anchor="middle">20</text>
<text transform="translate(766.17,1564) scale(0.94,1)" font-size="44.2" fill="#000" stroke="#000" stroke-width="0.35" text-anchor="middle">40</text>
<text transform="translate(928.26,1564) scale(0.94,1)" font-size="44.2" fill="#000" stroke="#000" stroke-width="0.35" text-anchor="middle">60</text>
<text transform="translate(726.8,1637) scale(0.94,1)" font-size="44.6" fill="#000" stroke="#000" stroke-width="0.35" text-anchor="middle"><tspan font-style="italic">t</tspan> (nm)</text>
<text transform="translate(342,1297.3) rotate(-90)" font-size="41.7" fill="#000" stroke="#000" stroke-width="0.35" text-anchor="middle"><tspan font-style="italic">γ</tspan> + <tspan font-style="italic">β</tspan>(<tspan font-style="italic">t</tspan>)</text>
<line x1="442" y1="1501.3" x2="928.5" y2="1147.5" stroke="#ff0000" stroke-width="3.6"/>
<line x1="523.3" y1="1421.6" x2="523.3" y2="1444.6" stroke="#ff0000" stroke-width="3"/>
<line x1="517.4" y1="1421.6" x2="529.2" y2="1421.6" stroke="#ff0000" stroke-width="3"/>
<line x1="517.4" y1="1444.6" x2="529.2" y2="1444.6" stroke="#ff0000" stroke-width="3"/>
<rect x="514.1" y="1424.2" width="18.4" height="17.8" rx="1" fill="#ff0000"/>
<rect x="595.2" y="1387.8" width="18.4" height="17.8" rx="1" fill="#ff0000"/>
<line x1="766.6" y1="1251.9" x2="766.6" y2="1278.1" stroke="#ff0000" stroke-width="3"/>
<line x1="760.7" y1="1251.9" x2="772.5" y2="1251.9" stroke="#ff0000" stroke-width="3"/>
<line x1="760.7" y1="1278.1" x2="772.5" y2="1278.1" stroke="#ff0000" stroke-width="3"/>
<rect x="757.4" y="1256.1" width="18.4" height="17.8" rx="1" fill="#ff0000"/>
<line x1="928.5" y1="1138.4" x2="928.5" y2="1155.4" stroke="#ff0000" stroke-width="3"/>
<line x1="922.6" y1="1138.4" x2="934.4" y2="1138.4" stroke="#ff0000" stroke-width="3"/>
<line x1="922.6" y1="1155.4" x2="934.4" y2="1155.4" stroke="#ff0000" stroke-width="3"/>
<rect x="919.3" y="1138" width="18.4" height="17.8" rx="1" fill="#ff0000"/>
</g>
</svg>
</body>
</html>
